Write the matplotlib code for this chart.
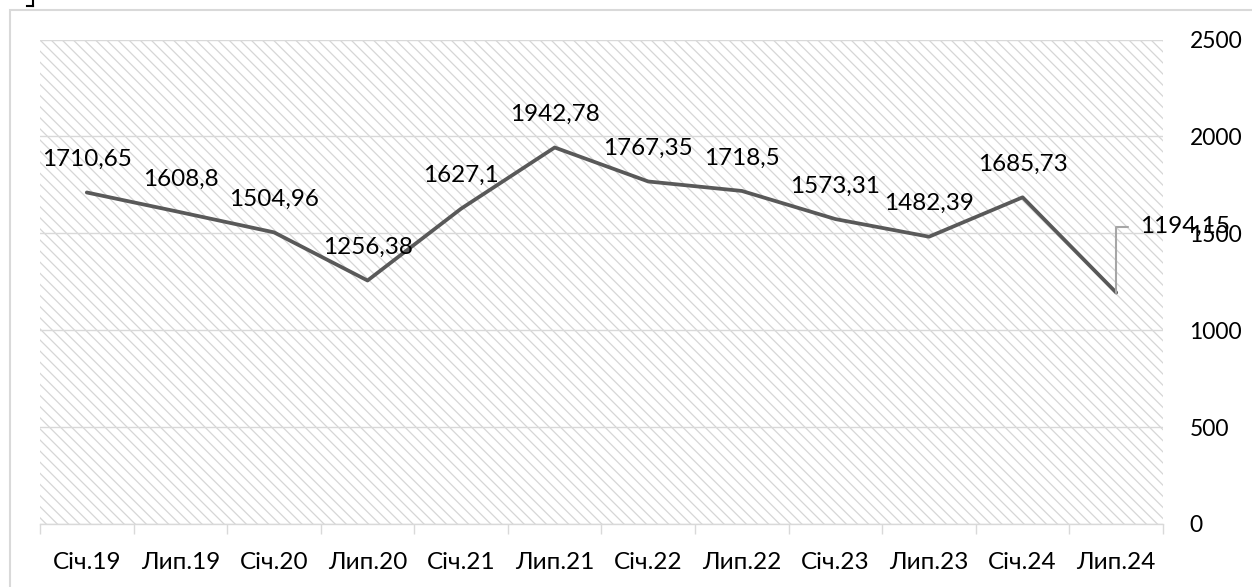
import numpy as np
import matplotlib
matplotlib.use('Agg')
import matplotlib.pyplot as plt
from matplotlib.patches import Rectangle
from matplotlib.lines import Line2D
from matplotlib.ticker import FixedLocator, MultipleLocator

# data
months = ['Січ.19', 'Лип.19', 'Січ.20', 'Лип.20', 'Січ.21', 'Лип.21',
          'Січ.22', 'Лип.22', 'Січ.23', 'Лип.23', 'Січ.24', 'Лип.24']
values = [1710.65, 1608.8, 1504.96, 1256.38, 1627.1, 1942.78,
          1767.35, 1718.5, 1573.31, 1482.39, 1685.73, 1194.15]
value_labels = ['1710,65', '1608,8', '1504,96', '1256,38', '1627,1', '1942,78',
                '1767,35', '1718,5', '1573,31', '1482,39', '1685,73', '1194,15']

plt.rcParams['font.family'] = ['Lato', 'DejaVu Sans']
plt.rcParams['hatch.linewidth'] = 0.9

W, H = 1252, 587
fig = plt.figure(figsize=(W / 100, H / 100), dpi=100)
ax = fig.add_axes([40 / W, (H - 524) / H, (1163 - 40) / W, (524 - 39.5) / H])

# hatched plot area
bg = Rectangle((0, 0), 1, 1, transform=ax.transAxes, facecolor='white',
               edgecolor='#d6d6d6', linewidth=0, hatch='\\\\\\', zorder=0)
ax.add_patch(bg)

x = np.arange(len(months))
ax.plot(x, values, color='#595959', lw=2.7, solid_joinstyle='round',
        solid_capstyle='round', zorder=3)

for i in range(len(values) - 1):
    ax.annotate(value_labels[i], (x[i], values[i]), xytext=(0, 33),
                textcoords='offset pixels', ha='center', va='center',
                fontsize=17.5, color='black', zorder=4)

# last label with leader line
ax.annotate(value_labels[-1], (x[-1], values[-1]), xytext=(24, 66),
            textcoords='offset pixels', ha='left', va='center',
            fontsize=17.5, color='black', zorder=4, annotation_clip=False,
            arrowprops=dict(arrowstyle='-', color='#a6a6a6', lw=1.5,
                            connectionstyle='angle,angleA=0,angleB=90,rad=0',
                            shrinkA=7, shrinkB=0))

ax.set_xlim(-0.5, len(months) - 0.5)
ax.set_ylim(0, 2500)

ax.yaxis.tick_right()
ax.yaxis.set_major_locator(MultipleLocator(500))
ax.tick_params(axis='y', length=0, pad=19, labelsize=16.5)
ax.grid(axis='y', color='#d9d9d9', lw=1, zorder=1)
ax.set_axisbelow(True)

ax.set_xticks(x)
ax.set_xticklabels(months)
ax.xaxis.set_minor_locator(FixedLocator(np.arange(-0.5, len(months), 1)))
ax.tick_params(axis='x', which='major', length=0, pad=20, labelsize=17.5)
ax.tick_params(axis='x', which='minor', length=7, width=1, color='#d9d9d9')

for s in ['top', 'left', 'right']:
    ax.spines[s].set_visible(False)
ax.spines['bottom'].set_color('#d9d9d9')
ax.spines['bottom'].set_linewidth(1)

# chart frame
fig.add_artist(Rectangle((9.5 / W, -0.1), 1.2, 1 - 9.5 / H + 0.1,
                         transform=fig.transFigure, fill=False,
                         edgecolor='#d9d9d9', lw=1.5))
fig.add_artist(Line2D([32.5 / W, 32.5 / W], [1, 1 - 5.5 / H],
                      transform=fig.transFigure, color='black', lw=1.5))
fig.add_artist(Line2D([27 / W, 33 / W], [1 - 5.5 / H, 1 - 5.5 / H],
                      transform=fig.transFigure, color='black', lw=1.5))

fig.savefig('out.png', dpi=100)
